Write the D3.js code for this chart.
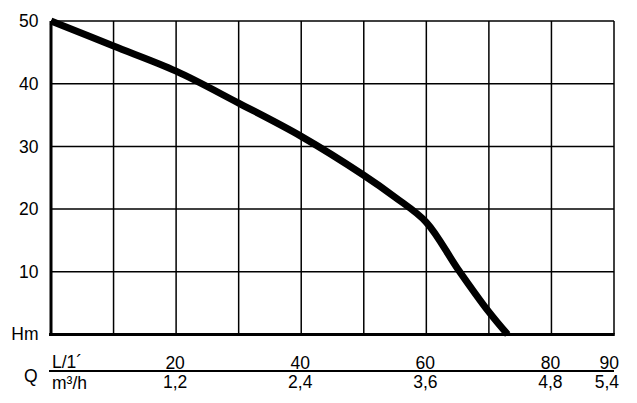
<!DOCTYPE html>
<html>
<head>
<meta charset="utf-8">
<script src="https://cdn.jsdelivr.net/npm/d3@7"></script>
<style>
  html, body { margin: 0; padding: 0; background: #fff; }
  svg { display: block; }
  text { font-family: "Liberation Sans", Arial, Helvetica, sans-serif; font-size: 17.5px; fill: #000; }
</style>
</head>
<body>
<svg id="chart" width="637" height="403"></svg>
<script>
// Data (Q in L/min, H in m)
const flowLmin = [0, 10, 20, 30, 40, 50, 55, 60, 65, 70, 73];
const headM    = [50, 46, 42, 36.9, 31.6, 25.4, 21.9, 17.9, 10.5, 3.6, 0];

const yTicks = [10, 20, 30, 40, 50];
const xGrid = [10, 20, 30, 40, 50, 60, 70, 80, 90];
const xTicksLmin = [20, 40, 60, 80, 90];
const xTicksM3h = ["1,2", "2,4", "3,6", "4,8", "5,4"];

const svg = d3.select("#chart");
const plotLeft = 51, plotRight = 614, plotTop = 21, plotBottom = 334.5;

const x = d3.scaleLinear().domain([0, 90]).range([plotLeft, plotRight]);
const y = d3.scaleLinear().domain([0, 50]).range([plotBottom, plotTop]);

// grid
const g = svg.append("g");
g.selectAll("line.v").data(xGrid).enter().append("line")
  .attr("x1", d => x(d)).attr("x2", d => x(d))
  .attr("y1", y(50)).attr("y2", y(0))
  .attr("stroke", "#000").attr("stroke-width", 1.5);
g.selectAll("line.h").data(yTicks).enter().append("line")
  .attr("x1", x(0)).attr("x2", x(90))
  .attr("y1", d => y(d)).attr("y2", d => y(d))
  .attr("stroke", "#000").attr("stroke-width", 1.5);

// axes (thicker)
svg.append("line").attr("x1", x(0)).attr("x2", x(0)).attr("y1", y(50)).attr("y2", y(0) + 1)
  .attr("stroke", "#000").attr("stroke-width", 3);
svg.append("line").attr("x1", x(0) - 2).attr("x2", x(90) + 0.75).attr("y1", y(0)).attr("y2", y(0))
  .attr("stroke", "#000").attr("stroke-width", 3);

// y labels
svg.selectAll("text.yl").data(yTicks).enter().append("text")
  .attr("x", 38.5).attr("y", d => y(d) + 6.2)
  .attr("text-anchor", "end").text(d => d);
svg.append("text").attr("x", 38.5).attr("y", y(0) + 5.8).attr("text-anchor", "end").text("Hm");

// curve
const line = d3.line()
  .x((d, i) => x(flowLmin[i]))
  .y((d, i) => y(headM[i]))
  .curve(d3.curveCatmullRom.alpha(0.5));
svg.append("path").datum(headM)
  .attr("d", line)
  .attr("fill", "none").attr("stroke", "#000")
  .attr("stroke-width", 7).attr("stroke-linecap", "butt").attr("stroke-linejoin", "round");

// bottom Q axis labels
svg.append("line").attr("x1", 49).attr("x2", x(90)).attr("y1", 371).attr("y2", 371)
  .attr("stroke", "#000").attr("stroke-width", 2);
svg.append("text").attr("x", 24).attr("y", 382).text("Q");
svg.append("text").attr("x", 52).attr("y", 367.5).text("L/1´");
svg.append("text").attr("x", 52).attr("y", 389).text("m³/h");

svg.selectAll("text.xt").data(xTicksLmin).enter().append("text")
  .attr("x", (d, i) => i === xTicksLmin.length - 1 ? x(d) + 5 : x(d) - 1)
  .attr("y", 368.5)
  .attr("text-anchor", (d, i) => i === xTicksLmin.length - 1 ? "end" : "middle")
  .text(d => d);
svg.selectAll("text.xb").data(xTicksM3h).enter().append("text")
  .attr("x", (d, i) => i === xTicksM3h.length - 1 ? x(xTicksLmin[i]) + 5 : x(xTicksLmin[i]) - 1)
  .attr("y", 388)
  .attr("text-anchor", (d, i) => i === xTicksM3h.length - 1 ? "end" : "middle")
  .text(d => d);
</script>
</body>
</html>
